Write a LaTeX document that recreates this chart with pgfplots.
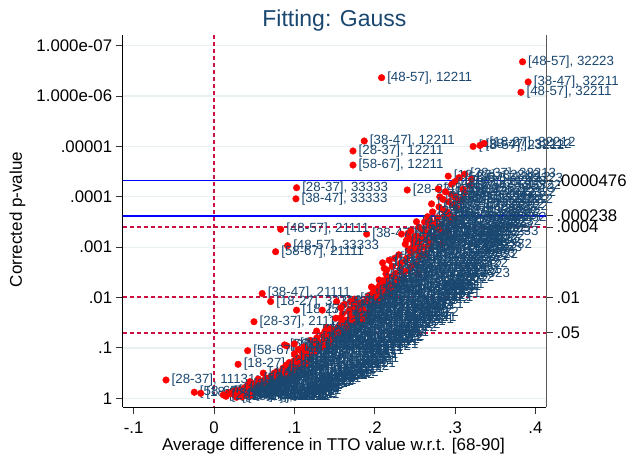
\documentclass[border=0pt]{standalone}
\usepackage{pgfplots}
\pgfplotsset{compat=1.18}
\usepackage{pgfplotstable}
\usepackage{fontspec}
\setmainfont{Liberation Sans}
\definecolor{stnavy}{RGB}{26,71,111}
\definecolor{stgrid}{RGB}{232,240,242}
\definecolor{dashred}{RGB}{204,16,64}
\definecolor{refblue}{RGB}{0,0,255}
\newcommand{\labfont}{\fontsize{13.3}{14}\selectfont}
\newcommand{\tickfont}{\fontsize{16.8}{18}\selectfont}

\pgfplotstableread{
x l ag st
0.384 -6.68 48-57 32223
0.2086 -6.365 48-57 12211
0.391 -6.28 38-47 32211
0.382 -6.075 48-57 32211
0.187 -5.108 38-47 12211
0.173 -4.91 28-37 12211
0.173 -4.63 58-67 12211
0.3225 -5.00 48-57 23212
0.331 -5.02 38-47 32212
0.336 -5.06 18-27 32212
0.2915 -4.41 18-27 32313
0.312 -4.45 28-37 33213
0.300 -4.30 38-47 22323
0.3205 -4.35 48-57 32323
0.305 -4.38 58-67 33212
0.318 -4.22 38-47 32322
0.2405 -4.135 28-37 22332
0.279 -4.155 48-57 23322
0.295 -4.05 18-27 23323
0.312 -4.08 28-37 32322
0.281 -4.00 38-47 22223
0.304 -3.94 58-67 22222
0.308 -3.93 48-57 22312
0.2708 -3.86 18-27 32322
0.2977 -3.84 28-37 22312
0.3018 -3.79 38-47 33322
0.285 -3.74 18-27 23332
0.29 -3.70 48-57 33232
0.2658 -3.605 28-37 32232
0.287 -3.62 58-67 32232
0.30 -3.58 58-67 22332
0.2687 -3.54 38-47 32223
0.252 -3.505 48-57 22232
0.2935 -3.505 18-27 22232
0.283 -3.45 38-47 23323
0.276 -3.38 28-37 23232
0.258 -3.36 48-57 32322
0.29 -3.30 18-27 22233
0.2417 -3.275 28-37 22223
0.2665 -3.275 58-67 23232
0.190 -3.26 38-47 22222
0.2334 -3.26 28-37 22322
0.273 -3.21 58-67 22322
0.2397 -3.14 48-57 22222
0.2563 -3.14 58-67 22232
0.2645 -3.14 38-47 23222
0.248 -3.11 18-27 22322
0.282 -3.05 38-47 22332
0.247 -3.00 58-67 22323
0.27 -2.98 28-37 23223
0.2417 -2.96 28-37 32222
0.255 -2.92 48-57 22233
0.2615 -2.86 18-27 22223
0.2645 -2.85 48-57 22322
0.083 -3.355 48-57 21111
0.0916 -3.03 48-57 33333
0.0767 -2.91 58-67 21111
0.1028 -4.18 28-37 33333
0.102 -3.96 38-47 33333
0.225 -2.78 28-37 22222
0.238 -2.72 58-67 22223
0.2098 -2.69 18-27 22322
0.252 -2.66 38-47 21322
0.2118 -2.58 48-57 22221
0.232 -2.58 28-37 23221
0.243 -2.55 58-67 22321
0.2347 -2.50 38-47 22232
0.214 -2.47 18-27 22232
0.2546 -2.47 48-57 22323
0.222 -2.42 28-37 21232
0.235 -2.38 38-47 22312
0.2056 -2.35 58-67 22221
0.217 -2.30 48-57 21222
0.2085 -2.29 28-37 22212
0.224 -2.25 18-27 22311
0.2127 -2.22 38-47 21322
0.196 -2.21 58-67 22122
0.199 -2.18 48-57 21223
0.2015 -2.15 28-37 22211
0.2143 -2.15 18-27 12322
0.205 -2.10 38-47 22213
0.218 -2.06 58-67 21321
0.194 -2.05 48-57 12222
0.192 -2.01 28-37 21221
0.209 -1.98 18-27 22121
0.060 -2.08 38-47 21111
0.0705 -1.92 18-27 33333
0.1028 -1.75 18-27 21111
0.0498 -1.52 28-37 21111
0.175 -1.97 38-47 22112
0.1526 -1.92 48-57 11222
0.185 -1.90 58-67 21212
0.197 -1.86 28-37 22121
0.162 -1.86 18-27 12221
0.1835 -1.83 38-47 21122
0.169 -1.77 48-57 12212
0.1347 -1.75 58-67 11221
0.1773 -1.75 28-37 21211
0.192 -1.70 18-27 22112
0.178 -1.68 38-47 12122
0.16 -1.68 48-57 21121
0.188 -1.60 58-67 12321
0.1517 -1.59 28-37 11212
0.1773 -1.59 18-27 12213
0.1642 -1.55 38-47 21112
0.176 -1.52 48-57 11321
0.161 -1.50 58-67 12112
0.168 -1.46 28-37 21212
0.155 -1.42 18-27 11122
0.14 -1.40 38-47 12121
0.152 -1.36 48-57 21121
0.1277 -1.335 58-67 11211
0.1484 -1.32 28-37 12111
0.143 -1.28 18-27 11212
0.135 -1.25 38-47 21112
0.1505 -1.22 48-57 11122
0.148 -1.20 58-67 12112
0.138 -1.18 28-37 11221
0.1443 -1.12 18-27 21111
0.12 -1.15 38-47 11121
0.13 -1.08 48-57 12111
0.0878 -1.06 58-67 11112
0.0907 -1.04 28-37 11211
0.142 -1.05 18-27 11221
0.1235 -0.99 38-47 12111
0.1153 -0.96 48-57 11121
0.0419 -0.945 58-67 11121
0.109 -0.925 28-37 11211
0.10 -0.88 18-27 11112
0.118 -0.85 38-47 12111
0.105 -0.80 48-57 11211
0.12 -0.78 58-67 21111
0.1124 -0.73 18-27 11121
0.0937 -0.71 28-37 11112
0.030 -0.675 18-27 11211
0.098 -0.65 38-47 11211
0.108 -0.62 48-57 11112
0.086 -0.60 58-67 11121
0.09 -0.56 28-37 11211
0.078 -0.53 18-27 11121
0.095 -0.50 38-47 11112
0.0613 -0.50 48-57 11112
0.083 -0.48 58-67 11211
0.08 -0.45 28-37 11121
0.07 -0.42 18-27 11112
0.072 -0.38 38-47 11211
0.0448 -0.33 48-57 11121
0.0613 -0.35 58-67 11211
-0.0597 -0.363 28-37 11131
0.066 -0.34 18-27 11121
0.06 -0.30 38-47 11112
0.0469 -0.30 28-37 11211
0.052 -0.26 48-57 11112
0.0439 -0.23 58-67 11121
0.048 -0.21 18-27 11211
0.04 -0.17 38-47 11112
0.024 -0.145 28-37 11121
0.047 -0.14 48-57 11211
0.0178 -0.12 38-47 11211
-0.0245 -0.12 58-67 11112
-0.0165 -0.10 18-27 11112
0.036 -0.10 38-47 11121
0.042 -0.08 28-37 11112
0.0116 -0.067 48-57 11112
0.032 -0.05 18-27 11211
0.028 -0.02 58-67 11121
0.296 -4.25 48-57 23313
0.31 -4.15 58-67 32313
0.288 -4.10 18-27 33322
0.30 -4.00 28-37 23312
0.292 -3.90 38-47 22313
0.285 -3.95 58-67 23223
0.28 -3.80 48-57 32213
0.293 -3.66 18-27 22323
0.272 -3.70 28-37 23312
0.278 -3.58 38-47 22313
0.262 -3.50 58-67 23322
0.275 -3.47 18-27 22322
0.268 -3.42 48-57 32233
0.28 -3.35 38-47 22223
0.255 -3.40 58-67 23222
0.262 -3.30 28-37 33222
0.245 -3.32 18-27 32223
0.252 -3.22 48-57 22313
0.26 -3.18 38-47 23322
0.243 -3.18 58-67 22232
0.268 -3.08 18-27 23223
0.255 -3.05 28-37 22322
0.238 -3.06 48-57 32222
0.262 -3.00 38-47 22232
0.25 -2.95 58-67 22323
0.245 -2.88 28-37 22232
0.23 -2.85 18-27 21322
0.255 -2.80 38-47 22222
0.24 -2.78 48-57 23222
0.218 -2.74 58-67 22322
0.232 -2.68 18-27 22223
0.245 -2.62 28-37 22312
0.222 -2.62 38-47 22231
0.215 -2.55 48-57 21323
0.238 -2.52 58-67 22213
0.226 -2.48 18-27 22322
0.228 -2.35 48-57 22222
0.215 -2.38 28-37 21222
0.21 -2.33 38-47 22212
0.22 -2.20 58-67 22211
0.206 -2.24 18-27 21322
0.21 -2.12 48-57 22122
0.198 -2.10 28-37 21232
0.2 -2.03 38-47 22112
0.205 -1.95 58-67 21222
0.19 -1.94 48-57 21122
0.18 -1.88 18-27 22111
0.17 -1.92 28-37 12222
0.175 -1.82 38-47 21221
0.158 -1.80 58-67 12211
0.185 -1.76 48-57 21212
0.168 -1.72 18-27 12122
0.182 -1.64 28-37 21121
0.17 -1.62 38-47 11222
0.158 -1.60 48-57 21112
0.185 -1.55 58-67 12221
0.172 -1.56 18-27 21211
0.158 -1.48 28-37 12112
0.165 -1.40 38-47 11212
0.145 -1.38 58-67 21112
0.138 -1.33 48-57 11221
0.155 -1.30 18-27 12211
0.14 -1.22 28-37 11212
0.128 -1.20 38-47 12111
0.145 -1.15 58-67 11122
0.135 -1.12 48-57 21111
0.125 -1.10 18-27 11211
0.1 -1.08 28-37 11121
0.112 -1.02 38-47 12112
0.135 -1.02 58-67 11112
0.125 -0.93 48-57 11211
0.105 -0.97 18-27 11121
0.115 -0.88 28-37 12111
0.11 -0.82 38-47 11112
0.1 -0.75 58-67 11211
0.115 -0.68 48-57 11121
0.105 -0.70 18-27 11211
0.09 -0.66 28-37 11112
0.1 -0.58 38-47 11121
0.085 -0.55 58-67 11211
0.075 -0.50 48-57 11121
0.09 -0.47 18-27 11112
0.075 -0.44 28-37 11211
0.065 -0.40 38-47 11121
0.055 -0.38 58-67 11112
0.063 -0.32 48-57 11211
0.055 -0.29 18-27 11121
0.05 -0.24 28-37 11112
0.042 -0.26 38-47 11211
0.045 -0.19 58-67 11121
0.038 -0.21 48-57 11112
0.03 -0.16 18-27 11121
0.04 -0.13 28-37 11211
0.02 -0.09 38-47 11112
0.045 -0.06 58-67 11211
0.026 -0.06 48-57 11121
0.035 -0.03 18-27 11112
0.015 -0.04 28-37 11121
}\pts

\begin{document}
\begin{tikzpicture}
\useasboundingbox (-122.7pt,-51pt) rectangle (504.3pt,407pt);
\begin{axis}[
  at={(0pt,0pt)}, anchor=south west,
  width=423.3pt, height=372pt, scale only axis,
  xmin=-0.1136, xmax=0.4132, ymin=-7.212, ymax=0.173, y dir=reverse,
  axis x line*=bottom, axis y line*=left,
  axis line style={black, line width=0.9pt, -},
  xtick={-0.1,0,0.1,0.2,0.3,0.4}, xticklabels={-.1,0,.1,.2,.3,.4},
  ytick={-7,-6,-5,-4,-3,-2,-1,0},
  yticklabels={1.000e-07,1.000e-06,.00001,.0001,.001,.01,.1,1},
  tick align=outside, major tick length=7pt,
  tick style={black!80, line width=0.9pt},
  tick label style={font=\tickfont},
  xticklabel style={yshift=-4pt},
  ymajorgrids, major grid style={stgrid, line width=1.3pt},
  clip=false,
]
\addplot[forget plot, color=refblue, line width=1.7pt] coordinates {(-0.1136,-4.3224) (0.4132,-4.3224)};
\addplot[forget plot, color=refblue, line width=1.6pt] coordinates {(-0.1136,-3.6234) (0.4132,-3.6234)};
\addplot[forget plot, color=dashred, line width=1.6pt, dash pattern=on 4pt off 3pt] coordinates {(-0.1136,-3.3979) (0.4132,-3.3979)};
\addplot[forget plot, color=dashred, line width=1.8pt, dash pattern=on 4pt off 3pt] coordinates {(-0.1136,-2.003) (0.4132,-2.003)};
\addplot[forget plot, color=dashred, line width=1.6pt, dash pattern=on 4pt off 3pt] coordinates {(-0.1136,-1.3010) (0.4132,-1.3010)};
\addplot[forget plot, color=dashred, line width=1.5pt, dash pattern=on 4pt off 3pt] coordinates {(0,-7.212) (0,0.173)};
\addplot[only marks, mark=*, mark size=3.3pt, color=red,
  point meta=explicit symbolic,
  visualization depends on={\thisrow{st}\as\stv},
  nodes near coords={{}[\pgfplotspointmeta], \pgfmathprintnumber[fixed,precision=0,1000 sep={},assume math mode=true]{\stv}},
  every node near coord/.append style={anchor=west, xshift=5.5pt, inner sep=0pt, font=\labfont, text=stnavy},
] table[x=x, y=l, meta=ag] {\pts};
\end{axis}
\begin{axis}[
  at={(0pt,0pt)}, anchor=south west,
  width=423.3pt, height=372pt, scale only axis,
  xmin=-0.1136, xmax=0.4132, ymin=-7.212, ymax=0.173, y dir=reverse,
  axis x line=none, axis y line*=right,
  axis line style={black!65, line width=0.9pt, -},
  ytick={-4.3224,-3.6234,-3.3979,-2,-1.3010},
  yticklabels={.0000476,.000238,.0004,.01,.05},
  tick align=outside, major tick length=7pt,
  tick style={black!80, line width=1pt},
  tick label style={font=\tickfont},
]
\end{axis}
\node[anchor=base, font=\fontsize{23}{26}\selectfont, text=stnavy] at (211.7pt,380.3pt) {Fitting: Gauss};
\node[anchor=base, rotate=90, font=\fontsize{17}{19}\selectfont] at (-100.7pt,187.5pt) {Corrected p-value};
\node[anchor=base, font=\fontsize{17}{19}\selectfont] at (210.8pt,-44pt) {Average difference in TTO value w.r.t. [68-90]};
\end{tikzpicture}
\end{document}
